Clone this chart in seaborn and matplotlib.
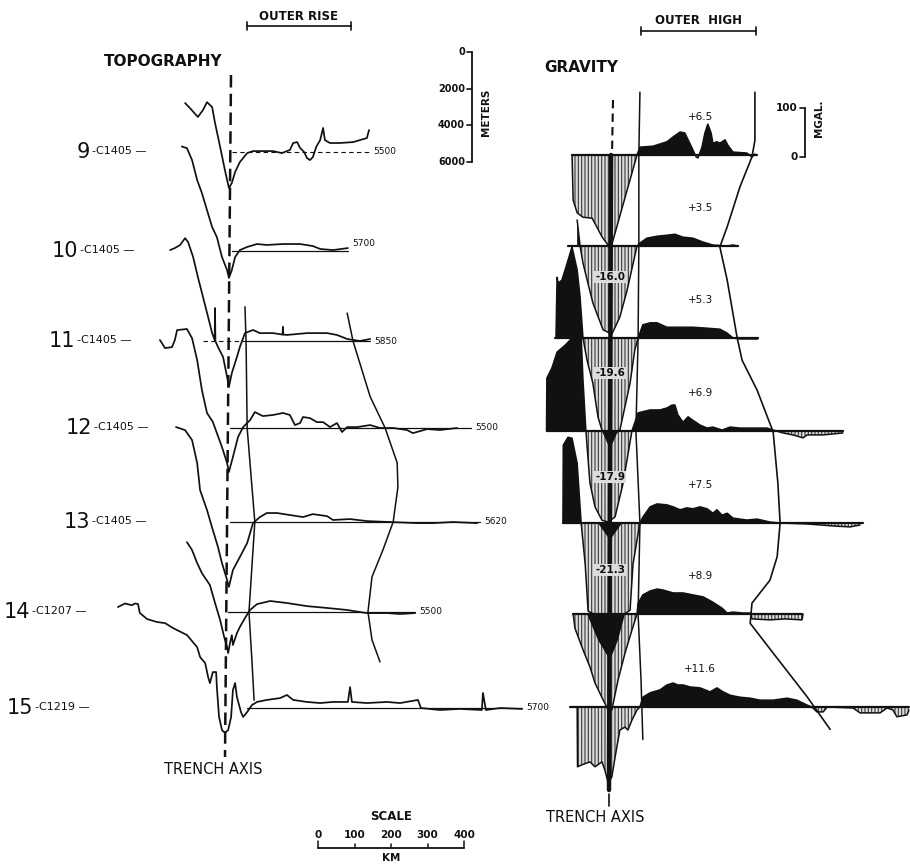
import numpy as np
import matplotlib
matplotlib.use("Agg")
import matplotlib.pyplot as plt
import seaborn as sns

# ---------------------------------------------------------------- profiles
profile_ids = [9, 10, 11, 12, 13, 14, 15]
cruise_ids = ["C1405", "C1405", "C1405", "C1405", "C1405", "C1207", "C1219"]
reference_depth_m = [5500, 5700, 5850, 5500, 5620, 5500, 5700]
outer_high_mgal = [6.5, 3.5, 5.3, 6.9, 7.5, 8.9, 11.6]
trench_low_ids = [10, 11, 12, 13]
trench_low_mgal = [-16.0, -19.6, -17.9, -21.3]

# topography: distance from trench axis (km, + seaward) and depth (m)
t9_km = [-123, -110, -88, -74, -63, -49, -41, -27, -14, -3, 5, 14, 27, 47, 63, 118, 142,
         164, 173, 184, 192, 203, 211, 219, 227, 236, 247, 255, 260, 274, 301, 337, 375, 381]
t9_m = [2830, 3100, 3590, 3210, 2780, 3050, 3920, 5230, 6480, 7460, 7190, 6590, 6050, 5560,
        5450, 5450, 5560, 5390, 5010, 4960, 5280, 5500, 5830, 5940, 5780, 5230, 4850, 4190,
        4850, 5010, 5010, 4960, 4740, 4300]
t10_km = [-132, -118, -104, -90, -77, -63, -49, -36, -22, -8, -3, 5, 14, 27, 47, 74, 101,
          145, 192, 227, 247, 282, 323]
t10_m = [0, 90, 740, 1830, 2540, 3470, 4390, 4940, 6030, 6740, 7170, 6740, 6030, 5650, 5480,
         5320, 5370, 5320, 5320, 5430, 5590, 5650, 5540]
t11_km = [-164, -151, -137, -123, -115, -101, -88, -74, -60, -49, -42, -41, -40, -33, -19,
          -8, -3, 5, 19, 27, 41, 63, 82, 118, 144, 145, 146, 156, 211, 266, 293, 321, 356, 384]
t11_m = [890, 780, 620, 240, 450, 1270, 2360, 3450, 4540, 5420, 5800, 4050, 5850, 6180, 6720,
         7810, 8360, 7600, 6720, 6180, 5420, 5250, 5420, 5420, 5500, 5080, 5500, 5520, 5420,
         5420, 5520, 5740, 5850, 5740]
t12_km = [-192, -178, -159, -151, -145, -118, -104, -90, -77, -63, -47, -22, -8, -3, 8, 22,
          36, 55, 68, 90, 118, 145, 164, 178, 192, 200, 219, 238, 255, 274, 293, 307, 321,
          348, 384, 411, 447, 485, 501, 540, 575, 622]
t12_m = [700, 1140, 1090, 700, 160, 100, 600, 1790, 3430, 4680, 5170, 6540, 7410, 7900, 7080,
         5990, 5450, 5070, 4630, 4850, 4790, 4680, 4790, 5340, 5230, 4900, 4960, 5180, 5180,
         5450, 5230, 5720, 5450, 5450, 5340, 5500, 5500, 5610, 5780, 5560, 5610, 5500]
t13_km = [-148, -123, -104, -90, -82, -63, -47, -33, -22, -8, -3, 8, 27, 47, 63, 82, 101,
          129, 164, 200, 227, 266, 282, 329, 375, 438, 512, 556, 611, 677]
t13_m = [440, 610, 1150, 2400, 3880, 4970, 6060, 6980, 7860, 8780, 9160, 8240, 7530, 6770,
         5680, 5350, 5130, 5130, 5240, 5350, 5190, 5300, 5510, 5460, 5570, 5620, 5680, 5680,
         5620, 5680]
t14_km = [-118, -104, -90, -77, -55, -41, -27, -16, -8, -5, 0, 5, 8, 19, 27, 41, 55, 74, 110,
          156, 211, 266, 321, 375, 430, 466, 507]
t14_m = [1690, 2120, 2830, 3380, 4030, 5010, 5940, 6860, 7410, 7740, 7190, 6760, 7300, 6650,
         6320, 5830, 5390, 5070, 4900, 5010, 5180, 5280, 5390, 5560, 5560, 5610, 5560]
t15_km = [-307, -288, -269, -260, -252, -247, -227, -200, -178, -156, -118, -90, -82, -68,
          -60, -55, -47, -38, -36, -30, -22, -14, -5, 3, 8, 14, 19, 30, 36, 47, 60, 74, 101,
          137, 156, 173, 211, 247, 282, 323, 329, 334, 375, 430, 466, 515, 523, 575, 630, 690,
          693, 701, 740, 800]
t15_m = [195, 0, 90, 0, 30, 520, 850, 1010, 1070, 1340, 1720, 2380, 2920, 3250, 4010, 4340,
         3740, 3740, 4560, 6190, 6900, 7060, 6900, 6190, 4720, 4340, 5100, 5920, 6190, 5920,
         5540, 5370, 5260, 5160, 4990, 5260, 5370, 5430, 5370, 5370, 4560, 5370, 5430, 5370,
         5430, 5260, 5700, 5810, 5750, 5810, 4880, 5810, 5700, 5750]

# extent of each reference-depth line (km)
topo_ref_start_km = [5, 5, -74, 0, 0, -5, 47]
topo_ref_end_km = [381, 323, 384, 660, 685, 507, 800]

# free-air gravity: distance (km) and anomaly (mgal)
g9_km = [-104, -101, -90, -74, -49, -36, -22, -5, 3, 74, 82, 118, 156, 173, 192, 205, 214,
         225, 236, 241, 252, 260, 268, 277, 282, 293, 301, 315, 323, 337, 375, 389, 397]
g9_mgal = [0, -92, -118, -127, -129, -147, -167, -184, -188, 0, 16, 18, 27, 37, 47, 45, 31,
           14, -4, -6, 16, 45, 63, 45, 24, 27, 24, 31, 20, 6, 4, -4, 2]
g10_km = [-90, -82, -74, -47, -19, 5, 27, 47, 74, 82, 101, 129, 156, 178, 200, 227, 255, 282,
          321, 337, 351]
g10_mgal = [53, 0, -35, -116, -171, -180, -145, -90, 0, 6, 16, 20, 22, 24, 18, 16, 8, 2, 0,
            2, 0]
g11_km = [-148, -145, -142, -132, -123, -104, -90, -82, -74, -63, -47, -33, -22, -8, 5, 27,
          55, 68, 77, 90, 110, 129, 156, 192, 227, 266, 301, 321, 337, 356, 405]
g11_mgal = [0, 124, 112, 118, 139, 186, 139, 84, 0, -45, -92, -161, -188, -202, -200, -188,
            -92, -24, 0, 27, 31, 31, 22, 22, 22, 20, 18, 10, 0, -2, -2]
g12_km = [-174, -173, -159, -145, -123, -96, -79, -74, -66, -55, -41, -22, -5, 14, 36, 60,
          77, 110, 137, 156, 170, 178, 186, 200, 214, 227, 247, 266, 282, 307, 329, 356, 392,
          430, 447, 474, 501, 529, 540, 584, 638]
g12_mgal = [0, 108, 129, 161, 175, 196, 196, 104, 0, -106, -155, -182, -186, -175, -106, 0,
            37, 43, 43, 47, 53, 53, 33, 18, 29, 22, 12, 6, 8, 2, 8, 6, 6, 6, 2, -4, -8, -14,
            -8, -8, -4]
g13_km = [-129, -128, -115, -104, -90, -79, -68, -60, -27, 27, 55, 63, 82, 90, 110, 129, 156,
          173, 192, 211, 227, 247, 266, 282, 293, 307, 321, 337, 375, 403, 438, 466, 540,
          611, 658, 685]
g13_mgal = [0, 159, 175, 173, 122, 0, -84, -180, -192, -192, -178, -84, 0, 12, 33, 39, 37,
            33, 27, 31, 29, 33, 29, 20, 27, 16, 20, 10, 6, 8, 2, 0, -2, -6, -8, -4]
g14_km = [-101, -96, -74, -55, -41, -19, -5, 5, 22, 41, 60, 74, 77, 90, 110, 129, 145, 173,
          200, 227, 255, 282, 307, 321, 337, 364, 384, 389, 438, 479, 526, 529]
g14_mgal = [0, -29, -73, -108, -141, -175, -196, -196, -135, -80, -33, 0, 22, 39, 47, 51, 49,
            43, 43, 39, 35, 24, 12, 2, 4, 2, 2, -10, -12, -10, -12, 0]
g15_km = [-90, -89, -77, -55, -41, -22, -14, -5, 5, 14, 27, 41, 49, 60, 74, 82, 90, 110, 137,
          156, 173, 186, 200, 219, 247, 274, 293, 310, 329, 356, 384, 411, 447, 485, 512, 540,
          553, 567, 584, 595, 666, 685, 740, 759, 775, 786, 814, 819]
g15_mgal = [0, -122, -118, -112, -122, -112, -129, -155, -143, -102, -47, -41, -47, -27, -6,
            0, 20, 29, 35, 45, 49, 45, 45, 41, 39, 31, 39, 31, 24, 20, 18, 14, 14, 18, 14, 4,
            0, -10, -10, 0, -2, -12, -12, -2, -6, -20, -16, -6]

# darker cores of the trench lows
core_ids = [12, 13, 14]
core12_km, core12_mgal = [-22, 0, 22], [0, -37, 0]
core13_km, core13_mgal = [-33, 0, 33], [0, -35, 0]
core14_km, core14_mgal = [-63, -33, 0, 22, 41], [0, -53, -94, -53, 0]

grav_ref_start_km = [-104, -115, -151, -173, -129, -101, -110]
grav_ref_end_km = [402, 351, 405, 638, 693, 526, 819]

# limits of the outer rise / outer high, as (km, profile row)
rise_inner_km = [41, 44, 47, 68, 52, 60, 66]
rise_inner_row = [10.62, 11.0, 12.0, 13.0, 14.0, 14.5, 14.92]
rise_outer_km = [321, 337, 384, 425, 458, 460, 447, 419, 389, 378, 389, 411]
rise_outer_row = [10.69, 11.0, 11.64, 12.0, 12.37, 12.63, 13.0, 13.31, 13.61, 14.0, 14.29, 14.52]
high_inner_km = [82, 79, 79, 77, 71, 82, 77, 85, 90]
high_inner_row = [8.31, 9.0, 10.0, 11.0, 12.0, 13.0, 14.0, 14.71, 15.35]
high_outer_km = [397, 397, 389, 356, 321, 301, 321, 348, 362, 403, 447, 460, 466, 458, 438,
                 389, 384, 447, 540, 603]
high_outer_row = [8.31, 8.84, 9.02, 9.35, 9.79, 10.01, 10.37, 10.99, 11.24, 11.56, 12.01,
                  12.57, 13.0, 13.37, 13.63, 13.88, 14.1, 14.42, 14.89, 15.24]

depth_scale_ticks = [0, 2000, 4000, 6000]
gravity_scale_ticks = [0, 100]
distance_scale_ticks = [0, 100, 200, 300, 400]

topo_km = dict(zip(profile_ids, [t9_km, t10_km, t11_km, t12_km, t13_km, t14_km, t15_km]))
topo_m = dict(zip(profile_ids, [t9_m, t10_m, t11_m, t12_m, t13_m, t14_m, t15_m]))
grav_km = dict(zip(profile_ids, [g9_km, g10_km, g11_km, g12_km, g13_km, g14_km, g15_km]))
grav_mgal = dict(zip(profile_ids, [g9_mgal, g10_mgal, g11_mgal, g12_mgal, g13_mgal,
                                   g14_mgal, g15_mgal]))
core_km = dict(zip(core_ids, [core12_km, core13_km, core14_km]))
core_mgal = dict(zip(core_ids, [core12_mgal, core13_mgal, core14_mgal]))

# ---------------------------------------------------------------- layout
TOPO_X0, GRAV_X0 = 230.0, 610.0           # trench axis in each panel
KM_PX = 146.0 / 400.0                      # horizontal scale
M_PX = 110.0 / 6000.0                      # topographic vertical scale
MGAL_PX = 49.0 / 100.0                     # gravity vertical scale
TOPO_BASE = [152, 251, 341, 428, 522, 612, 708]
GRAV_BASE = [155, 246, 338, 431, 523, 614, 707]
LABEL_X = [90, 78, 75, 92, 90, 30, 33]

sns.set_theme(style="white")
plt.rcParams["font.family"] = ["DejaVu Sans"]
plt.rcParams["hatch.linewidth"] = 0.8
INK = "#111111"
HATCH_FACE = "#dcdcdc"

fig = plt.figure(figsize=(9.1, 8.65), dpi=100)
ax = fig.add_axes([0, 0, 1, 1])
ax.set_xlim(0, 910)
ax.set_ylim(865, 0)
ax.axis("off")


def row_to_y(rows, bases):
    rows = np.asarray(rows, dtype=float)
    idx = np.asarray(profile_ids, dtype=float)
    y = np.interp(rows, idx, bases)
    lo, hi = rows < idx[0], rows > idx[-1]
    y[lo] = bases[0] + (rows[lo] - idx[0]) * (bases[1] - bases[0])
    y[hi] = bases[-1] + (rows[hi] - idx[-1]) * (bases[-1] - bases[-2])
    return y


def line(x, y, lw=1.2, **kw):
    sns.lineplot(x=np.asarray(x, float), y=np.asarray(y, float), sort=False,
                 estimator=None, ax=ax, color=kw.pop("color", INK), lw=lw, **kw)


# ---------------------------------------------------------------- topography
for i, p in enumerate(profile_ids):
    base = TOPO_BASE[i]
    km = np.asarray(topo_km[p], float)
    x = TOPO_X0 + km * KM_PX
    y = base + (np.asarray(topo_m[p], float) - reference_depth_m[i]) * M_PX
    x0 = TOPO_X0 + topo_ref_start_km[i] * KM_PX
    x1 = TOPO_X0 + topo_ref_end_km[i] * KM_PX
    if p == 9:
        ax.plot([x0, x1], [base, base], color=INK, lw=0.8, ls=(0, (4, 3)))
    elif p == 11:
        xm = TOPO_X0 + 41 * KM_PX
        ax.plot([x0, xm], [base, base], color=INK, lw=0.8, ls=(0, (4, 3)))
        ax.plot([xm, x1], [base, base], color=INK, lw=0.9)
    else:
        ax.plot([x0, x1], [base, base], color=INK, lw=0.9)
    line(x, y, lw=1.25)
    dy = -7 if p == 10 else 0
    ax.text(x1 + 4, base + dy, f"{reference_depth_m[i]}", fontsize=6.5,
            ha="left", va="center", color=INK)
    ax.text(LABEL_X[i], base, f"{p}", fontsize=15, ha="right", va="center", color=INK)
    ax.text(LABEL_X[i] + 2, base - 1, f"-{cruise_ids[i]} —", fontsize=8,
            ha="left", va="center", color=INK)

# trench axis (topography)
ax.plot([TOPO_X0 + 1, TOPO_X0 - 5], [75, 757], color=INK, lw=1.8, ls=(0, (5, 2.5)))
ax.text(TOPO_X0 - 17, 770, "TRENCH AXIS", fontsize=10.5, ha="center", va="center", color=INK)

# outer rise limits
line(TOPO_X0 + np.asarray(rise_inner_km) * KM_PX, row_to_y(rise_inner_row, TOPO_BASE), lw=1.1)
line(TOPO_X0 + np.asarray(rise_outer_km) * KM_PX, row_to_y(rise_outer_row, TOPO_BASE), lw=1.1)

# ---------------------------------------------------------------- gravity
for i, p in enumerate(profile_ids):
    base = GRAV_BASE[i]
    km = np.asarray(grav_km[p], float)
    g = np.asarray(grav_mgal[p], float)
    x = GRAV_X0 + km * KM_PX
    y = base - g * MGAL_PX
    ax.fill_between(x, base, y, where=g <= 0, interpolate=True, facecolor=HATCH_FACE,
                    hatch="|||||", edgecolor="#3a3a3a", lw=0, zorder=2)
    ax.fill_between(x, base, y, where=g >= 0, interpolate=True, color=INK, lw=0, zorder=3)
    if p in core_km:
        ck = GRAV_X0 + np.asarray(core_km[p], float) * KM_PX
        cy = base - np.asarray(core_mgal[p], float) * MGAL_PX
        ax.fill(ck, cy, color=INK, lw=0, zorder=3)
    line(x, y, lw=1.1, zorder=4)
    x0 = GRAV_X0 + grav_ref_start_km[i] * KM_PX
    x1 = GRAV_X0 + grav_ref_end_km[i] * KM_PX
    ax.plot([x0, x1], [base, base], color=INK, lw=1.6, zorder=5)
    ax.text(GRAV_X0 + 247 * KM_PX, base - 38, f"+{outer_high_mgal[i]:.1f}", fontsize=7.5,
            ha="center", va="center", color=INK, zorder=6)

# trench axis (gravity)
ax.plot([GRAV_X0 + 3, GRAV_X0 + 2], [100, 155], color=INK, lw=1.5, ls=(0, (4, 2.5)), zorder=6)
ax.plot([GRAV_X0 + 1, GRAV_X0 - 1], [155, 790], color=INK, lw=3.2, zorder=6)
ax.plot([GRAV_X0 - 1, GRAV_X0 - 1], [794, 806], color=INK, lw=1.2)
ax.text(GRAV_X0 - 15, 817, "TRENCH AXIS", fontsize=10.5, ha="center", va="center", color=INK)

for pid, val, off in zip(trench_low_ids, trench_low_mgal, [31, 35, 46, 47]):
    i = profile_ids.index(pid)
    ax.text(GRAV_X0, GRAV_BASE[i] + off, f"{val:.1f}", fontsize=7.5, fontweight="bold",
            ha="center", va="center", color=INK, zorder=8,
            bbox=dict(facecolor=HATCH_FACE, edgecolor="none", pad=0.6))

# outer high limits
line(GRAV_X0 + np.asarray(high_inner_km) * KM_PX, row_to_y(high_inner_row, GRAV_BASE),
     lw=1.1, zorder=6)
line(GRAV_X0 + np.asarray(high_outer_km) * KM_PX, row_to_y(high_outer_row, GRAV_BASE),
     lw=1.2, zorder=6)

# ---------------------------------------------------------------- titles
ax.text(163, 62, "TOPOGRAPHY", fontsize=11, fontweight="bold", ha="center", va="center",
        color=INK)
ax.text(581, 67, "GRAVITY", fontsize=11, fontweight="bold", ha="center", va="center",
        color=INK)


def bracket(xa, xb, y, text, ty):
    ax.plot([xa, xb], [y, y], color=INK, lw=1.2)
    for xx in (xa, xb):
        ax.plot([xx, xx], [y - 4, y + 4], color=INK, lw=1.2)
    ax.text((xa + xb) / 2, ty, text, fontsize=8.5, fontweight="bold", ha="center",
            va="center", color=INK)


bracket(TOPO_X0 + 47 * KM_PX, TOPO_X0 + 331 * KM_PX, 26, "OUTER RISE", 16)
bracket(GRAV_X0 + 85 * KM_PX, GRAV_X0 + 400 * KM_PX, 31, "OUTER  HIGH", 20)

# depth scale
DEPTH_BAR_X, DEPTH_TOP = 472, 52
yd = [DEPTH_TOP + v * M_PX for v in depth_scale_ticks]
ax.plot([DEPTH_BAR_X, DEPTH_BAR_X], [yd[0], yd[-1]], color=INK, lw=1.3)
for v, yy in zip(depth_scale_ticks, yd):
    ax.plot([DEPTH_BAR_X - 5, DEPTH_BAR_X], [yy, yy], color=INK, lw=1.2)
    ax.text(DEPTH_BAR_X - 7, yy, f"{v}", fontsize=7, fontweight="bold", ha="right",
            va="center", color=INK)
ax.text(486, 112, "METERS", fontsize=7.5, fontweight="bold", rotation=90, ha="center",
        va="center", color=INK)

# gravity scale
GBAR_X, GBAR_ZERO = 805, 157
for v in gravity_scale_ticks:
    yy = GBAR_ZERO - v * MGAL_PX
    ax.plot([GBAR_X - 5, GBAR_X], [yy, yy], color=INK, lw=1.2)
    ax.text(GBAR_X - 7, yy, f"{v}", fontsize=7.5, fontweight="bold", ha="right",
            va="center", color=INK)
ax.plot([GBAR_X, GBAR_X], [GBAR_ZERO, GBAR_ZERO - max(gravity_scale_ticks) * MGAL_PX],
        color=INK, lw=1.3)
ax.text(819, 118, "MGAL.", fontsize=7.5, fontweight="bold", rotation=90, ha="center",
        va="center", color=INK)

# distance scale
SX0, SY = 318, 848
xs = [SX0 + v * KM_PX for v in distance_scale_ticks]
ax.plot([xs[0], xs[-1]], [SY, SY], color=INK, lw=1.3)
for k, (v, xx) in enumerate(zip(distance_scale_ticks, xs)):
    tick = 7 if k in (0, len(xs) - 1) else 4
    ax.plot([xx, xx], [SY, SY - tick], color=INK, lw=1.1)
    ax.text(xx, 835, f"{v}", fontsize=7.5, fontweight="bold", ha="center", va="center",
            color=INK)
ax.text((xs[0] + xs[-1]) / 2, 817, "SCALE", fontsize=8.5, fontweight="bold", ha="center",
        va="center", color=INK)
ax.text((xs[0] + xs[-1]) / 2, 858, "KM", fontsize=7.5, fontweight="bold", ha="center",
        va="center", color=INK)

fig.savefig("out.png", dpi=100, facecolor="white")
